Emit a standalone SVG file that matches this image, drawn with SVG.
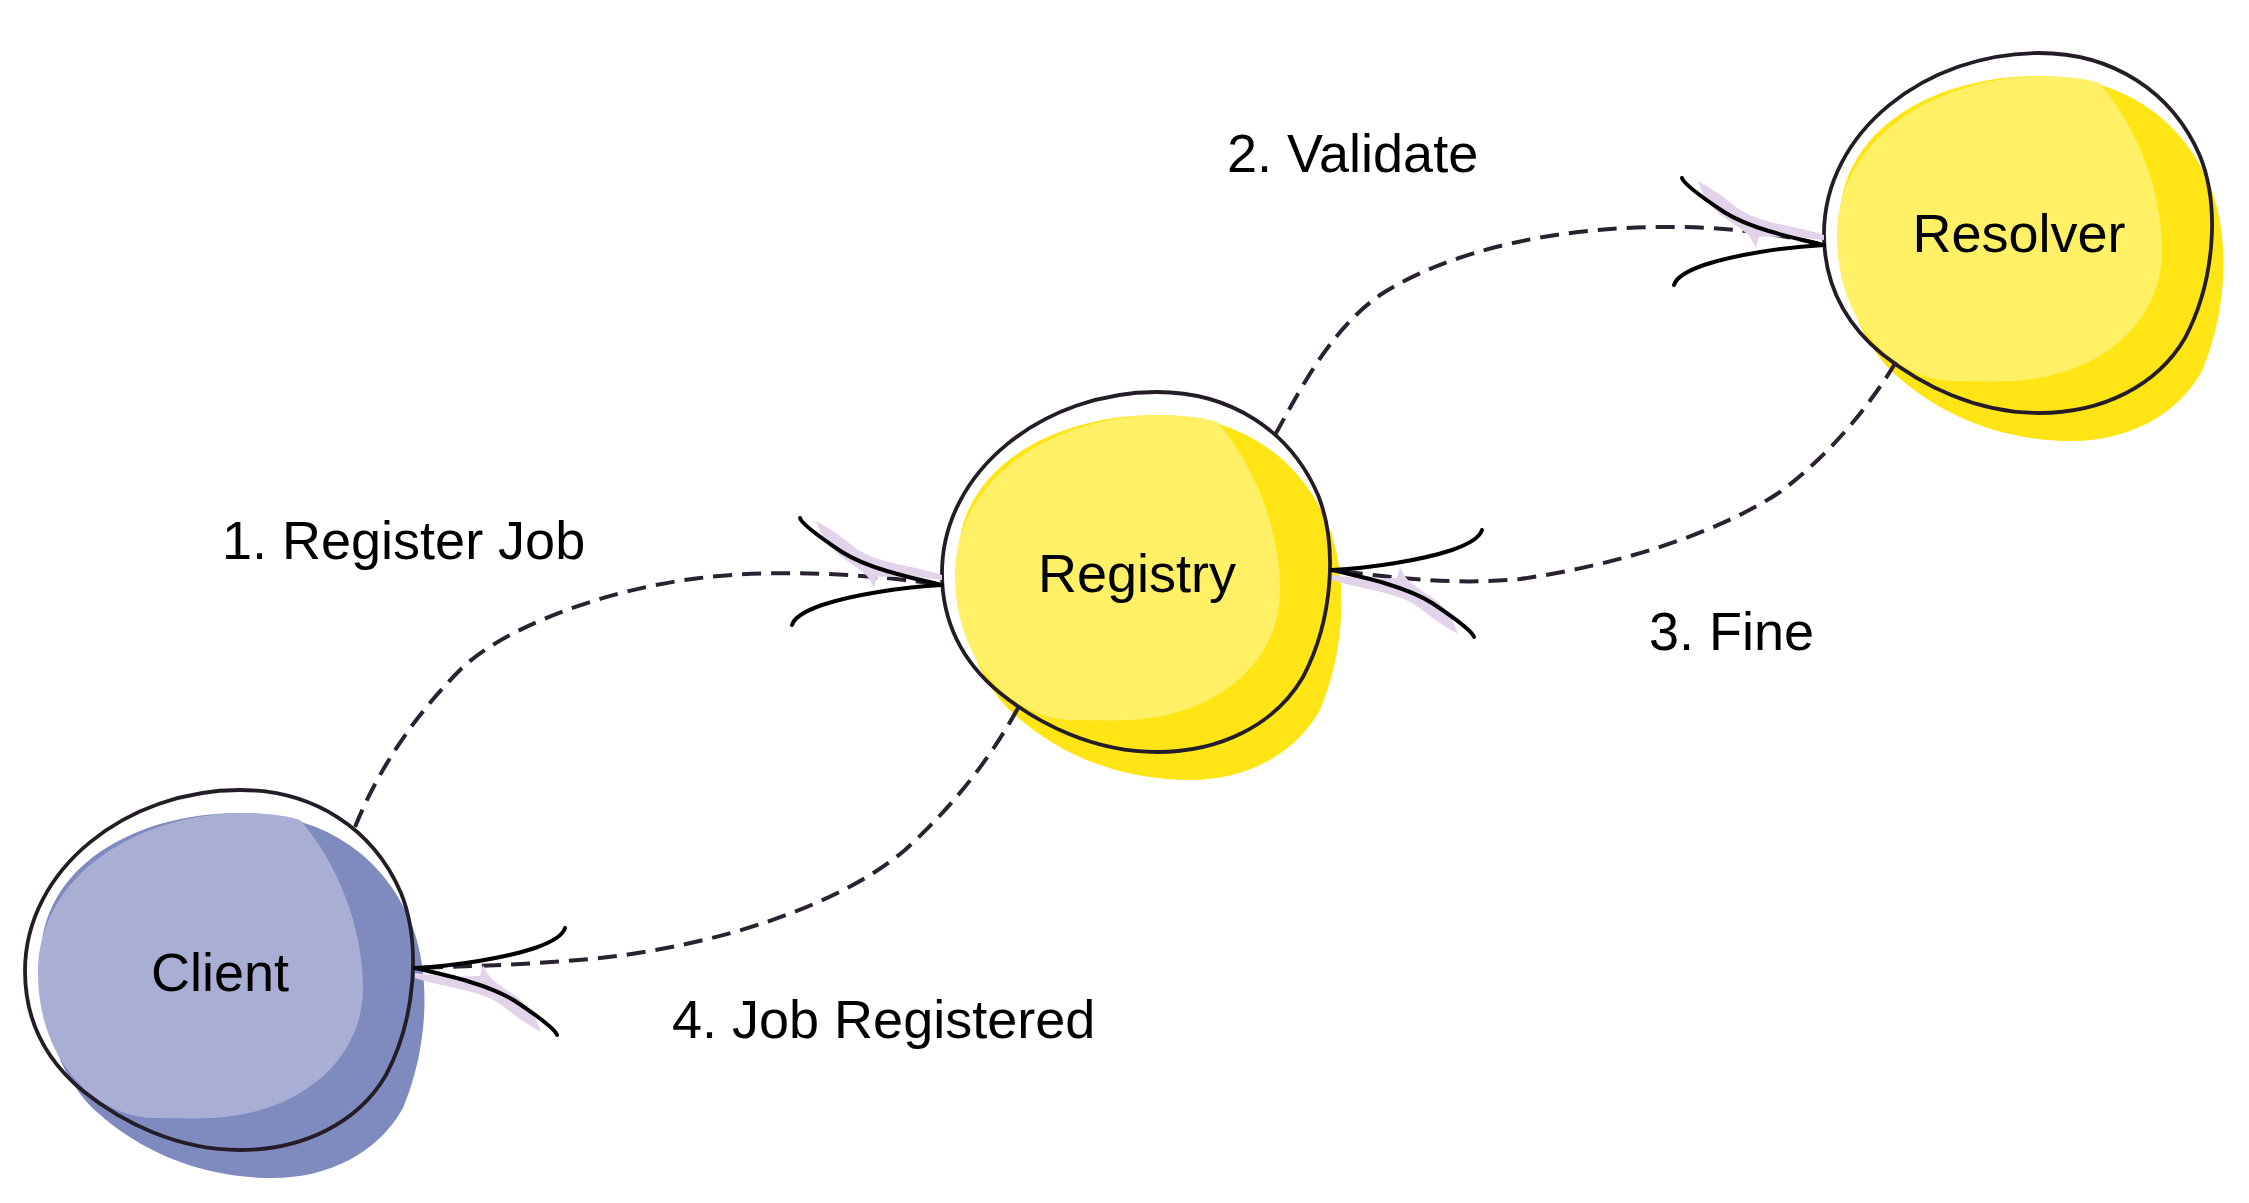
<svg xmlns="http://www.w3.org/2000/svg" xmlns:xlink="http://www.w3.org/1999/xlink" width="2249" height="1203" viewBox="0 0 2249 1203">
<style>
.bg{fill:#ffffff}
.outline{fill:none;stroke:#241d28;stroke-width:3.8;stroke-linejoin:round}
.cl-light{fill:#a9aed5}
.cl-dark{fill:#7f8abf}
.y-light{fill:#fff066}
.y-dark{fill:#ffe515}
.dash{fill:none;stroke:#2a2230;stroke-width:4;stroke-dasharray:19 10;stroke-linecap:butt}
.prong{fill:none;stroke:#000000;stroke-width:4;stroke-linecap:round}
.lav{fill:#e2d3ea}
.lbl{font-family:"Liberation Sans",Arial,Helvetica,sans-serif;font-size:54px;fill:#000000}
.mid{text-anchor:middle}
</style>
<defs>
<path id="blobDark" d="M20,-157 C93,-157 163,-122 193,-42 C211,8 208,78 183,138 C158,183 108,208 53,208 C-17,208 -77,183 -122,143 C-162,108 -179,48 -179,-12 C-179,-102 -87,-157 20,-157 Z"/>
<path id="blobLight" d="M20,-157 C48,-157 68,-154 80,-150 C118,-107 143,-42 143,18 C143,88 83,143 -7,148 C-27,149 -47,148 -67,148 C-127,146 -182,88 -182,3 C-182,-92 -87,-155 20,-157 Z"/>
<path id="outlineShape" d="M20,-180 C93,-180 153,-142 181,-77 C201,-27 196,48 166,105 C138,153 83,180 20,180 C-42,180 -97,153 -137,121 C-177,88 -195,48 -195,1 C-195,-102 -92,-180 20,-180 Z"/>
<g id="arrowA">
<path class="lav" d="M-126,-64 C-113,-57 -101,-49 -88,-38 C-75,-28 -55,-23 -40,-20 C-25,-17 -10,-13 0,-10 L0,-5 C-20,-8 -45,-9 -65,-8 L-68,3 C-71,-3 -73,-7 -76,-10 C-82,-16 -92,-22 -102,-29 C-114,-38 -121,-49 -126,-64 Z"/>
<path class="prong" d="M0,0 C-35,-8 -75,-17 -100,-33 C-118,-45 -140,-60 -142,-67"/>
<path class="prong" d="M0,0 C-40,2 -90,10 -120,20 C-140,27 -148,33 -150,40"/>
</g>
</defs>
<rect class="bg" x="0" y="0" width="2249" height="1203"/>

<g id="node-client" transform="translate(220,970)">
<use href="#blobDark" class="cl-dark"/>
<use href="#blobLight" class="cl-light"/>
<use href="#outlineShape" class="outline"/>
<text class="lbl mid" x="0" y="21">Client</text>
</g>

<g id="node-registry" transform="translate(1137,572)">
<use href="#blobDark" class="y-dark"/>
<use href="#blobLight" class="y-light"/>
<use href="#outlineShape" class="outline"/>
<text class="lbl mid" x="0" y="20">Registry</text>
</g>

<g id="node-resolver" transform="translate(2019,233)">
<use href="#blobDark" class="y-dark"/>
<use href="#blobLight" class="y-light"/>
<use href="#outlineShape" class="outline"/>
<text class="lbl mid" x="0" y="19">Resolver</text>
</g>

<g id="connectors">
<path class="dash" d="M355,827 C370,790 400,730 460,670 C500,630 600,590 700,578 C780,568 880,575 941,585"/>
<path class="dash" d="M1275,435 C1300,390 1330,330 1380,295 C1450,250 1560,225 1680,227 C1740,228 1790,236 1824,245"/>
<path class="dash" d="M1896,362 C1870,405 1830,455 1780,492 C1720,532 1620,565 1520,579 C1450,586 1380,576 1332,570"/>
<path class="dash" d="M1018,708 C995,750 960,800 905,850 C840,905 720,945 600,958 C530,965 470,966 415,968"/>
<use href="#arrowA" transform="translate(942,585)"/>
<use href="#arrowA" transform="translate(1824,245)"/>
<use href="#arrowA" transform="translate(1332,570) rotate(180)"/>
<use href="#arrowA" transform="translate(415,968) rotate(180)"/>
</g>

<g id="labels">
<text class="lbl" x="222" y="559">1. Register Job</text>
<text class="lbl" x="1227" y="172">2. Validate</text>
<text class="lbl" x="1649" y="650">3. Fine</text>
<text class="lbl" x="672" y="1038">4. Job Registered</text>
</g>
</svg>
